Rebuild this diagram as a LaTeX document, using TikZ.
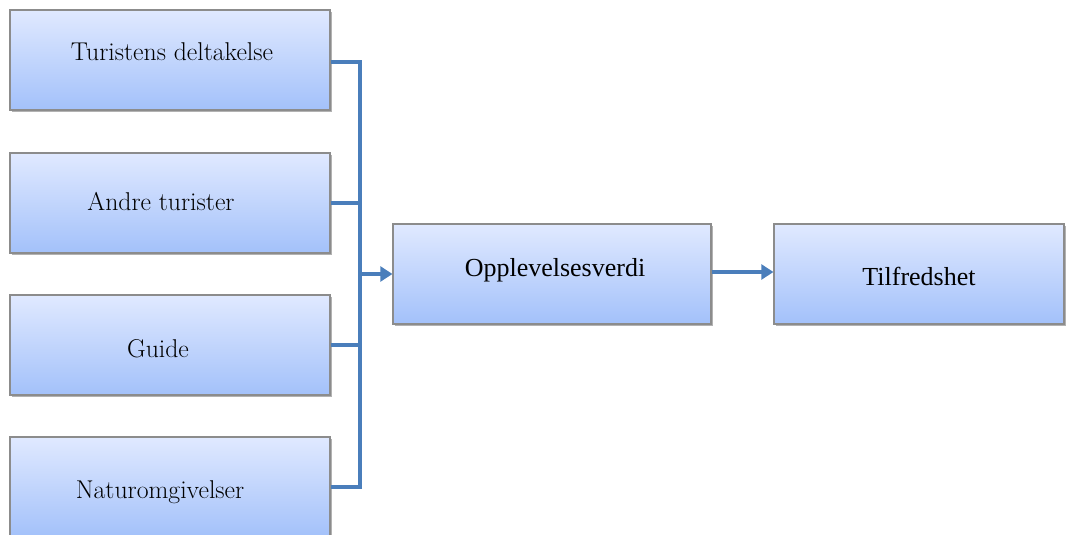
\documentclass[tikz,border=0pt]{standalone}
\usepackage{fontspec}
\newfontfamily\timesfont{Liberation Serif}
\usetikzlibrary{shadows,arrows.meta}
\definecolor{boxtop}{RGB}{224,233,255}
\definecolor{boxbot}{RGB}{163,193,250}
\definecolor{boxedge}{RGB}{140,140,140}
\definecolor{conncol}{RGB}{74,126,187}
\begin{document}
\begin{tikzpicture}[x=0.75pt,y=-0.75pt,
  box/.style={draw=boxedge,line width=0.8pt,top color=boxtop,bottom color=boxbot,
    minimum width=240pt,minimum height=75pt,inner sep=0pt,
    drop shadow={shadow xshift=1.5pt,shadow yshift=-1.8pt,fill=black,opacity=0.3}},
  lbl/.style={font=\fontsize{19.3}{22}\selectfont,inner sep=0pt},
  tlbl/.style={font=\timesfont\fontsize{19.5}{22}\selectfont,inner sep=0pt},
  conn/.style={draw=conncol,line width=3pt},
  arr/.style={conn,-{Triangle[length=9pt,width=11pt]}}]
\useasboundingbox (0,0) rectangle (1067,535);
\node[box] (b1) at (170,60) {};
\node[box] (b2) at (170,203) {};
\node[box] (b3) at (170,345) {};
\node[box] (b4) at (170,487) {};
\node[box,minimum width=238.5pt] (mid) at (552,274) {};
\node[box,minimum width=217.5pt] (res) at (919,274) {};
\node[lbl] (t1) at (172,52) {Turistens deltakelse};
\node[lbl] (t2) at (161,202) {Andre turister};
\node[lbl] (t3) at (158,349) {Guide};
\node[lbl] (t4) at (160,492) {Naturomgivelser};
\node[tlbl] (tm) at (555,270) {Opplevelsesverdi};
\node[tlbl] (tr) at (919,276) {Tilfredshet};
\coordinate (j) at (360,274);
\draw[conn] ([yshift=-1.5pt]b1.east) -| (j);
\draw[conn] (b2.east) -| (j);
\draw[conn] (b3.east) -| (j);
\draw[conn] (b4.east) -| (j);
\draw[arr] (j) -- (mid.west);
\draw[arr] ([yshift=1.5pt]mid.east) -- ([yshift=1.5pt]res.west);
\end{tikzpicture}
\end{document}
